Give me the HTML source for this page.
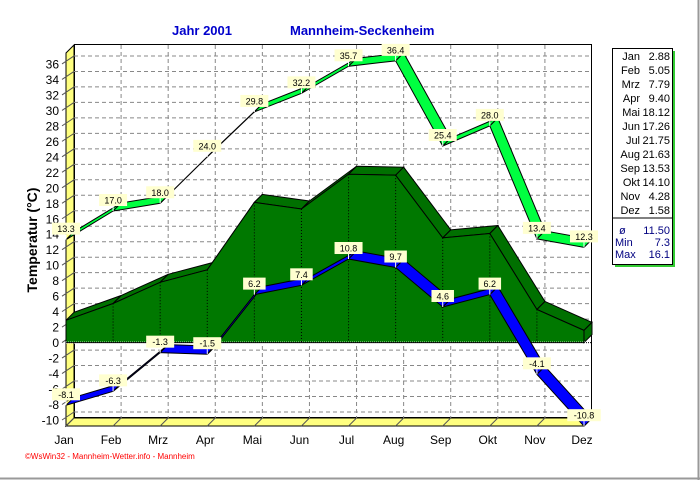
<!DOCTYPE html>
<html><head><meta charset="utf-8"><style>
body{margin:0;background:#fff;}
svg text{font-family:"Liberation Sans",sans-serif;}
</style></head><body>
<svg id="s" width="700" height="480" xmlns="http://www.w3.org/2000/svg"></svg>
<script>
(function(){
const S=document.getElementById('s');
let h='';
const X=i=>66+i*47.09, Y=v=>342.6-v*7.74, D=8;
h+='<rect x="0" y="0" width="700" height="480" fill="#fff"/>';
h+='<line x1="0" y1="478.5" x2="700" y2="478.5" stroke="#999" stroke-width="2"/><line x1="698.5" y1="0" x2="698.5" y2="480" stroke="#999" stroke-width="2"/>';
h+='<rect x="74.5" y="44.5" width="517" height="373" fill="#fff" stroke="#000"/>';
h+='<polygon points="66,53 74,45 74,418 66,426" fill="#ffff80" stroke="#000"/>';
h+='<polygon points="66,426 74,418 592,418 584,426" fill="#ffff80" stroke="#000"/>';
for(let v=-10;v<=36;v+=2){const y=Y(v);
 h+=`<line x1="74" y1="${y-D}" x2="591" y2="${y-D}" stroke="#888" stroke-dasharray="4,3"/>`;
 h+=`<line x1="62" y1="${y}" x2="74" y2="${y-D}" stroke="#555"/>`;
 h+=`<text x="59" y="${y+4.5}" font-size="12" text-anchor="end">${v}</text>`;}
const M=['Jan','Feb','Mrz','Apr','Mai','Jun','Jul','Aug','Sep','Okt','Nov','Dez'];
for(let i=0;i<12;i++){const x=X(i);
 if(i>0&&i<11)h+=`<line x1="${x+D}" y1="45" x2="${x+D}" y2="418" stroke="#888" stroke-dasharray="4,3"/>`;
 h+=`<line x1="${x}" y1="426" x2="${x+D}" y2="418" stroke="#555"/>`;
 h+=`<text x="${x-2}" y="444" font-size="12" text-anchor="middle">${M[i]}</text>`;}
const mean=[2.88,5.05,7.79,9.40,18.12,17.26,21.75,21.63,13.53,14.10,4.28,1.58];
for(let i=0;i<11;i++){const x1=X(i),x2=X(i+1),y1=Y(mean[i]),y2=Y(mean[i+1]);
 h+=`<polygon points="${x1},${y1} ${x1+D},${y1-D} ${x2+D},${y2-D} ${x2},${y2}" fill="#007000" stroke="#000" stroke-width="1"/>`;}
h+=`<polygon points="${X(11)},${Y(mean[11])} ${X(11)+D},${Y(mean[11])-D} ${X(11)+D},${Y(0)-D} ${X(11)},${Y(0)}" fill="#007000" stroke="#000"/>`;
let p=`${X(0)},${Y(0)} `;for(let i=0;i<12;i++)p+=`${X(i)},${Y(mean[i])} `;p+=`${X(11)},${Y(0)}`;
h+=`<polygon points="${p}" fill="#007800" stroke="#000"/>`;
for(let i=1;i<11;i++)h+=`<line x1="${X(i)}" y1="${Y(mean[i])}" x2="${X(i)}" y2="${Y(0)}" stroke="#000" stroke-dasharray="1,2"/>`;
h+=`<line x1="${X(0)}" y1="${Y(0)}" x2="${X(11)+D}" y2="${Y(0)}" stroke="#fff" stroke-width="2" stroke-dasharray="1,1"/>`;
h+=`<line x1="${X(0)}" y1="${Y(0)}" x2="${X(11)+D}" y2="${Y(0)}" stroke="#000" stroke-dasharray="1,1"/>`;
function rib(d,col){for(let i=0;i<11;i++){const x1=X(i),x2=X(i+1),y1=Y(d[i]),y2=Y(d[i+1]);
 h+=`<polygon points="${x1},${y1} ${x1+D},${y1-D} ${x2+D},${y2-D} ${x2},${y2}" fill="${col}" stroke="#000" stroke-width="1"/>`;}}
function lab(d){for(let i=0;i<12;i++){const x=X(i),y=Y(d[i]);const t=d[i].toFixed(1);const w=t.length*5.5+6;
 h+=`<rect x="${x-w/2}" y="${y-17}" width="${w}" height="12" fill="#ffffd0"/><line x1="${x}" y1="${y-5}" x2="${x}" y2="${y}" stroke="#fff"/><text x="${x}" y="${y-7.5}" font-size="9" text-anchor="middle">${t}</text>`;}}
const mx=[13.3,17.0,18.0,24.0,29.8,32.2,35.7,36.4,25.4,28.0,13.4,12.3];
const mn=[-8.1,-6.3,-1.3,-1.5,6.2,7.4,10.8,9.7,4.6,6.2,-4.1,-10.8];
rib(mx,'#00ff40');rib(mn,'#0000ff');lab(mx);lab(mn);
h+='<text x="172" y="35" font-size="13" font-weight="bold" fill="#0000cc">Jahr  2001</text>';
h+='<text x="290" y="35" font-size="13" font-weight="bold" fill="#0000cc">Mannheim-Seckenheim</text>';
h+='<text transform="translate(37,240) rotate(-90)" font-size="14" font-weight="bold" text-anchor="middle">Temperatur  (°C)</text>';
h+='<text x="25" y="459" font-size="8" fill="#ff0000">©WsWin32 - Mannheim-Wetter.info - Mannheim</text>';
h+='<rect x="615" y="51" width="60" height="216" fill="#33cc33"/><rect x="612.5" y="48.5" width="60" height="216" fill="#fff" stroke="#000"/>';
h+='<line x1="612" y1="218" x2="672" y2="218" stroke="#000"/>';
for(let i=0;i<12;i++){const y=60+i*14;
 h+=`<text x="640" y="${y}" font-size="11" text-anchor="end">${M[i]}</text><text x="670" y="${y}" font-size="11" text-anchor="end">${mean[i].toFixed(2)}</text>`;}
h+='<text x="619" y="234" font-size="11" fill="#000080">ø</text><text x="670" y="234" font-size="11" text-anchor="end" fill="#000080">11.50</text>';
h+='<text x="615" y="246" font-size="11" fill="#000080">Min</text><text x="670" y="246" font-size="11" text-anchor="end" fill="#000080">7.3</text>';
h+='<text x="615" y="258" font-size="11" fill="#000080">Max</text><text x="670" y="258" font-size="11" text-anchor="end" fill="#000080">16.1</text>';
S.innerHTML=h;
})();
</script>
</body></html>
